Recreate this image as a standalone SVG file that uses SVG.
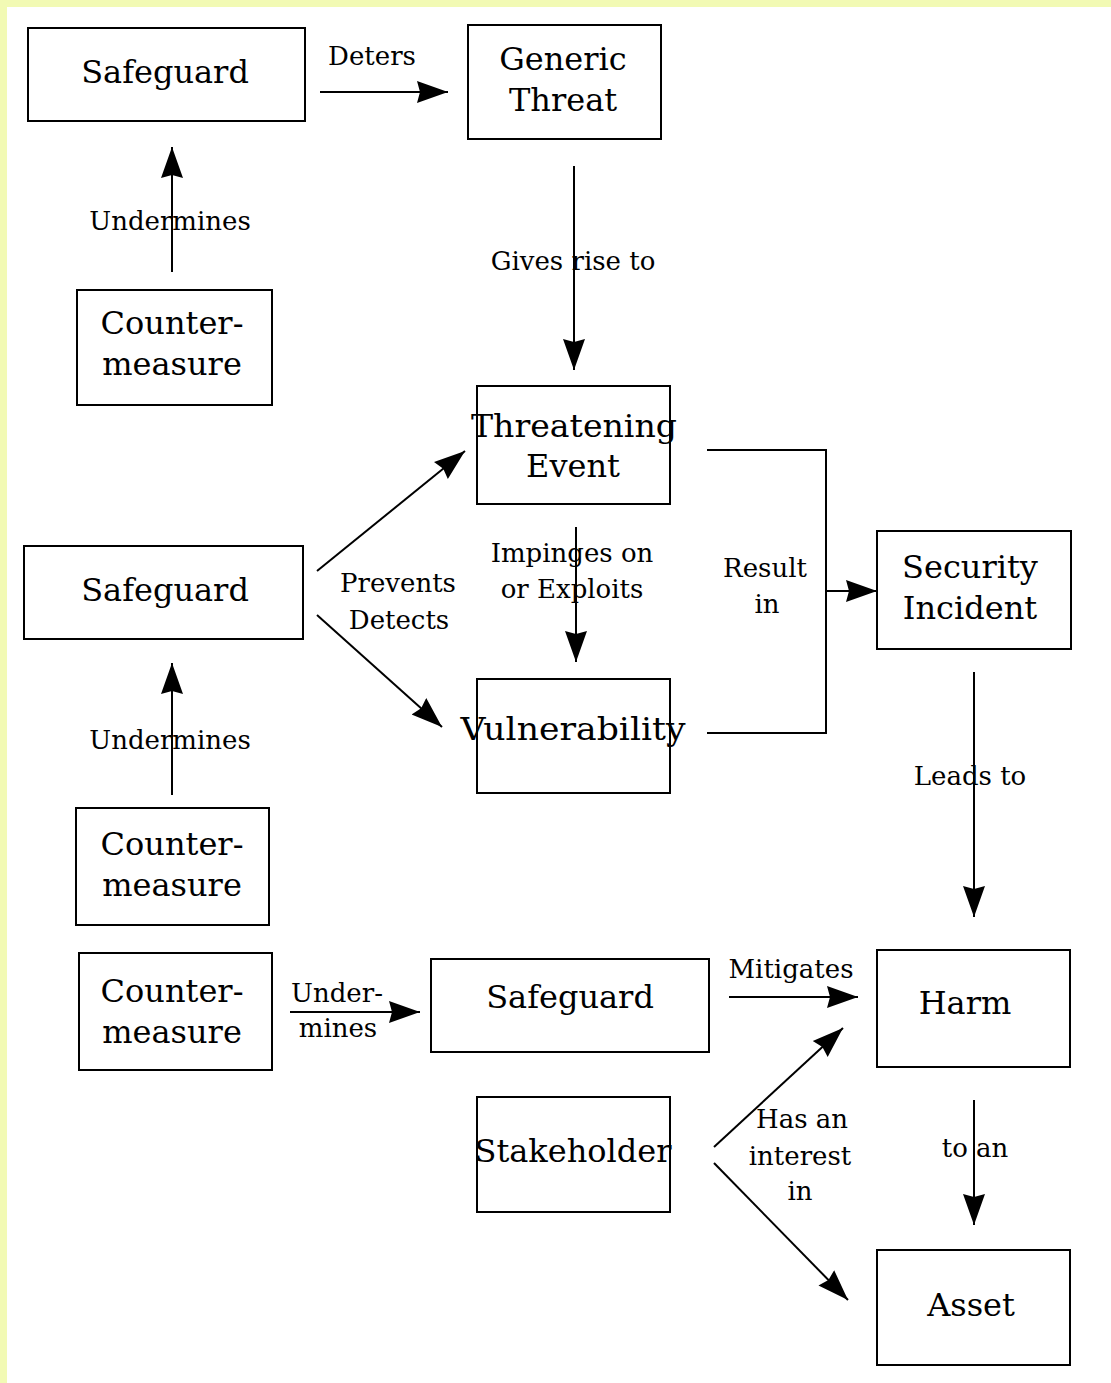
<svg xmlns="http://www.w3.org/2000/svg" width="1111" height="1383" viewBox="0 0 1111 1383">
<style>
.box{fill:#fff;stroke:#000;stroke-width:2}
.nt{font-family:"DejaVu Serif","Liberation Serif",serif;font-size:32px;fill:#000;text-anchor:middle}
.lt{font-family:"DejaVu Serif","Liberation Serif",serif;font-size:26px;fill:#000;text-anchor:middle}
.ln{fill:none;stroke:#000;stroke-width:2}
.ar{fill:none;stroke:#000;stroke-width:2;marker-end:url(#ah)}
</style>
<defs>
<marker id="ah" markerUnits="userSpaceOnUse" markerWidth="32" markerHeight="24" viewBox="0 0 32 24" refX="31" refY="12" orient="auto">
<path d="M0,1 L31,12 L0,23 L3,12 z" fill="#000"/>
</marker>
</defs>
<rect x="0" y="0" width="1111" height="1383" fill="#f2fab4"/>
<rect x="7" y="7" width="1104" height="1376" fill="#fff"/>
<g id="connectors">
<line class="ar" x1="320" y1="92" x2="448" y2="92"/>
<line class="ar" x1="172" y1="272" x2="172" y2="147"/>
<line class="ar" x1="574" y1="166" x2="574" y2="370"/>
<line class="ar" x1="576" y1="527" x2="576" y2="662"/>
<polyline class="ln" points="707,450 826,450 826,733 707,733"/>
<line class="ar" x1="826" y1="591" x2="877" y2="591"/>
<line class="ar" x1="317" y1="571" x2="465" y2="451"/>
<line class="ar" x1="317" y1="615" x2="442" y2="727"/>
<line class="ar" x1="172" y1="795" x2="172" y2="663"/>
<line class="ar" x1="974" y1="672" x2="974" y2="917"/>
<line class="ar" x1="290" y1="1012" x2="420" y2="1012"/>
<line class="ar" x1="729" y1="997" x2="858" y2="997"/>
<line class="ar" x1="714" y1="1147" x2="843" y2="1028"/>
<line class="ar" x1="714" y1="1163" x2="848" y2="1300"/>
<line class="ar" x1="974" y1="1100" x2="974" y2="1225"/>
<text class="lt" x="372" y="65">Deters</text>
<text class="lt" x="170" y="230">Undermines</text>
<text class="lt" x="573" y="270">Gives rise to</text>
<text class="lt" x="572" y="562">Impinges on</text>
<text class="lt" x="572" y="598">or Exploits</text>
<text class="lt" x="765" y="577">Result</text>
<text class="lt" x="767" y="613">in</text>
<text class="lt" x="398" y="592">Prevents</text>
<text class="lt" x="399" y="629">Detects</text>
<text class="lt" x="170" y="749">Undermines</text>
<text class="lt" x="970" y="785">Leads to</text>
<text class="lt" x="791" y="978">Mitigates</text>
<text class="lt" x="337" y="1002">Under-</text>
<text class="lt" x="338" y="1037">mines</text>
<text class="lt" x="802" y="1128">Has an</text>
<text class="lt" x="800" y="1165">interest</text>
<text class="lt" x="800" y="1200">in</text>
<text class="lt" x="975" y="1157">to an</text>
</g>
<g id="safeguard1"><rect class="box" x="28" y="28" width="277" height="93"/><text class="nt" x="165" y="83">Safeguard</text></g>
<g id="generic-threat"><rect class="box" x="468" y="25" width="193" height="114"/><text class="nt" x="563" y="70">Generic</text><text class="nt" x="563" y="111">Threat</text></g>
<g id="countermeasure1"><rect class="box" x="77" y="290" width="195" height="115"/><text class="nt" x="172" y="334">Counter-</text><text class="nt" x="172" y="375">measure</text></g>
<g id="threatening-event"><rect class="box" x="477" y="386" width="193" height="118"/><text class="nt" x="574" y="437" textLength="206" lengthAdjust="spacingAndGlyphs">Threatening</text><text class="nt" x="573" y="477">Event</text></g>
<g id="safeguard2"><rect class="box" x="24" y="546" width="279" height="93"/><text class="nt" x="165" y="601">Safeguard</text></g>
<g id="security-incident"><rect class="box" x="877" y="531" width="194" height="118"/><text class="nt" x="970" y="578">Security</text><text class="nt" x="970" y="619">Incident</text></g>
<g id="vulnerability"><rect class="box" x="477" y="679" width="193" height="114"/><text class="nt" x="573" y="740" textLength="225" lengthAdjust="spacingAndGlyphs">Vulnerability</text></g>
<g id="countermeasure2"><rect class="box" x="76" y="808" width="193" height="117"/><text class="nt" x="172" y="855">Counter-</text><text class="nt" x="172" y="896">measure</text></g>
<g id="countermeasure3"><rect class="box" x="79" y="953" width="193" height="117"/><text class="nt" x="172" y="1002">Counter-</text><text class="nt" x="172" y="1043">measure</text></g>
<g id="safeguard3"><rect class="box" x="431" y="959" width="278" height="93"/><text class="nt" x="570" y="1008">Safeguard</text></g>
<g id="harm"><rect class="box" x="877" y="950" width="193" height="117"/><text class="nt" x="965" y="1014">Harm</text></g>
<g id="stakeholder"><rect class="box" x="477" y="1097" width="193" height="115"/><text class="nt" x="573" y="1162">Stakeholder</text></g>
<g id="asset"><rect class="box" x="877" y="1250" width="193" height="115"/><text class="nt" x="971" y="1316">Asset</text></g>
</svg>
